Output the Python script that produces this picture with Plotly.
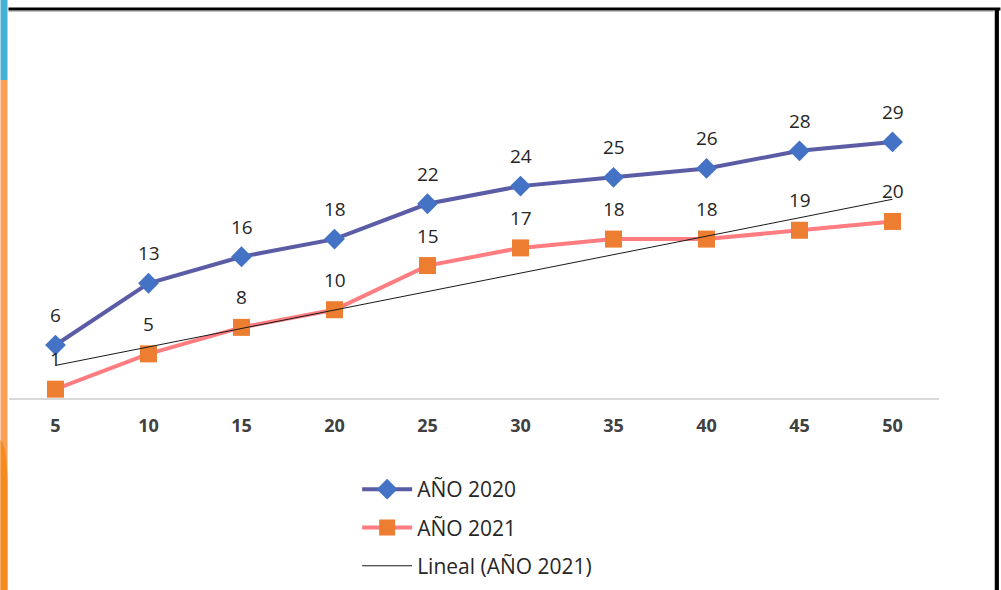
import numpy as np
import plotly.graph_objects as go

categories = ["5", "10", "15", "20", "25", "30", "35", "40", "45", "50"]
anio_2020 = [6, 13, 16, 18, 22, 24, 25, 26, 28, 29]
anio_2021 = [1, 5, 8, 10, 15, 17, 18, 18, 19, 20]

# linear trend of 2021 series (Excel "Lineal")
idx = np.arange(1, len(anio_2021) + 1)
slope, intercept = np.polyfit(idx, anio_2021, 1)
trend = slope * idx + intercept

W, H = 1001, 590
PX_L, PX_R, PX_T, PX_B = 8.5, 939.5, 89, 398
FONT = "Open Sans, Noto Sans, Liberation Sans"


def px(x):
    return (x - PX_L) / (PX_R - PX_L)


def py(y):
    return (PX_B - y) / (PX_B - PX_T)


fig = go.Figure()
fig.add_trace(go.Scatter(
    x=categories, y=anio_2020, name="AÑO 2020", mode="lines+markers",
    line=dict(color="#5B5CA6", width=4),
    marker=dict(symbol="diamond", size=16, color="#4472C4"),
    legendgroup="a",
))
fig.add_trace(go.Scatter(
    x=categories, y=anio_2021, name="AÑO 2021", mode="lines+markers",
    line=dict(color="#FF7C80", width=4),
    marker=dict(symbol="square", size=17, color="#ED7D31"),
    legendgroup="b",
))
fig.add_trace(go.Scatter(
    x=categories, y=trend, name="Lineal (AÑO 2021)", mode="lines",
    line=dict(color="#1a1a1a", width=1),
    legendgroup="c",
))

annotations = []
for series in (anio_2020, anio_2021):
    for i, v in enumerate(series):
        annotations.append(dict(
            x=i, y=v, xref="x", yref="y", text=str(v), showarrow=False,
            yshift=30, font=dict(family=FONT, size=19, color="#262626"),
        ))

shapes = [
    # left decorative bars
    dict(type="rect", xref="paper", yref="paper", x0=px(0), x1=px(7), y0=py(0), y1=py(80),
         fillcolor="#45B0D6", line=dict(width=0), layer="above"),
    dict(type="rect", xref="paper", yref="paper", x0=px(0), x1=px(7), y0=py(80), y1=py(590),
         fillcolor="#FB9F55", line=dict(width=0), layer="above"),
    dict(type="path", xref="paper", yref="paper",
         path=(f"M {px(0)},{py(440)} Q {px(6)},{py(445)} {px(7)},{py(480)} "
               f"L {px(7)},{py(590)} L {px(0)},{py(590)} Z"),
         fillcolor="#F68A1F", line=dict(width=0), layer="above"),
    # top border
    dict(type="line", xref="paper", yref="paper", x0=px(8), x1=px(1001), y0=py(9), y1=py(9),
         line=dict(color="#000000", width=3), layer="above"),
    dict(type="line", xref="paper", yref="paper", x0=px(8), x1=px(994), y0=py(11.5), y1=py(11.5),
         line=dict(color="#BFBFBF", width=1), layer="above"),
    # right border
    dict(type="line", xref="paper", yref="paper", x0=px(997.5), x1=px(997.5), y0=py(8), y1=py(590),
         line=dict(color="#000000", width=4), layer="above"),
    dict(type="line", xref="paper", yref="paper", x0=px(995), x1=px(995), y0=py(11), y1=py(590),
         line=dict(color="#BFBFBF", width=1), layer="above"),
]

fig.update_layout(
    width=W, height=H,
    margin=dict(l=PX_L, r=W - PX_R, t=PX_T, b=H - PX_B, pad=0, autoexpand=False),
    paper_bgcolor="white", plot_bgcolor="white",
    font=dict(family=FONT, color="#262626"),
    showlegend=True,
    legend=dict(
        x=px(357), y=py(469), xanchor="left", yanchor="top",
        font=dict(family=FONT, size=21, color="#262626"),
        itemwidth=50, tracegroupgap=8, traceorder="grouped",
        bgcolor="rgba(0,0,0,0)",
    ),
    xaxis=dict(
        type="category", range=[-0.5, 9.5], showgrid=False, zeroline=False,
        showline=True, linecolor="#D9D9D9", linewidth=1.5,
        ticks="", ticklabelstandoff=11,
        tickfont=dict(family=FONT, size=18, color="#404040", weight="bold"),
    ),
    yaxis=dict(
        range=[0, 35], showgrid=False, zeroline=False, showline=False,
        showticklabels=False, ticks="",
    ),
    annotations=annotations,
    shapes=shapes,
)

fig.write_html(
    "out.html",
    config={"displayModeBar": False},
    post_script="document.body.style.margin='0';document.body.style.overflow='hidden';",
)
